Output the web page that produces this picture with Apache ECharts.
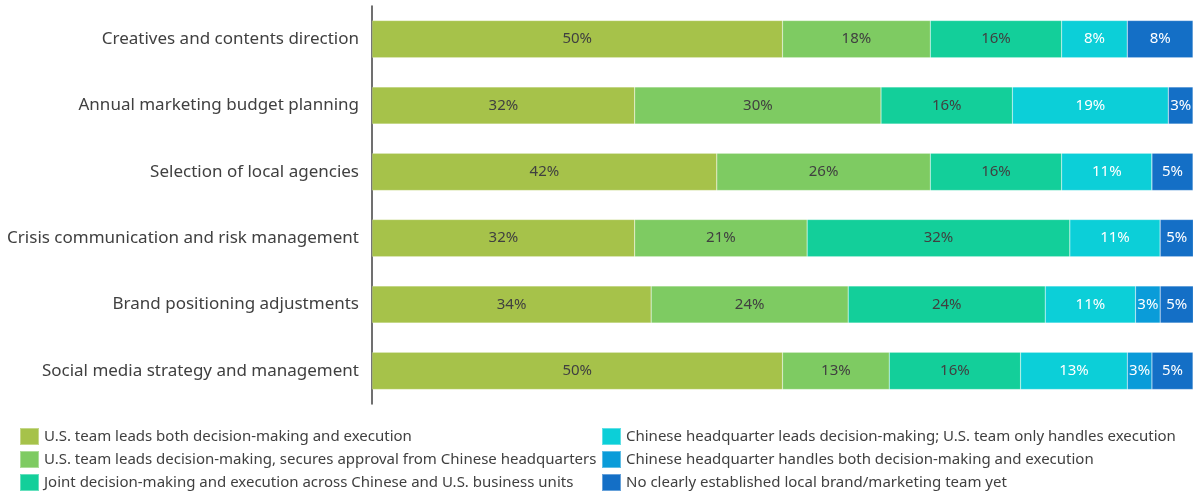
<!DOCTYPE html>
<html>
<head>
<meta charset="utf-8">
<script src="https://cdn.jsdelivr.net/npm/echarts@6/dist/echarts.min.js"></script>
<style>
  html, body { margin: 0; padding: 0; background: #ffffff; }
  #chart { width: 1193px; height: 496px; }
</style>
</head>
<body>
<div id="chart"></div>
<script>
// Categories, top to bottom
const categories = [
  "Creatives and contents direction",
  "Annual marketing budget planning",
  "Selection of local agencies",
  "Crisis communication and risk management",
  "Brand positioning adjustments",
  "Social media strategy and management"
];

const seriesNames = [
  "U.S. team leads both decision-making and execution",
  "U.S. team leads decision-making, secures approval from Chinese headquarters",
  "Joint decision-making and execution across Chinese and U.S. business units",
  "Chinese headquarter leads decision-making; U.S. team only handles execution",
  "Chinese headquarter handles both decision-making and execution",
  "No clearly established local brand/marketing team yet"
];

// Percentages per series, in category order
const usLeadsBoth      = [50, 32, 42, 32, 34, 50];
const usLeadsApproval  = [18, 30, 26, 21, 24, 13];
const jointDecision    = [16, 16, 16, 32, 24, 16];
const hqLeadsDecision  = [8, 19, 11, 11, 11, 13];
const hqHandlesBoth    = [0, 0, 0, 0, 3, 3];
const noLocalTeam      = [8, 3, 5, 5, 5, 5];

const seriesValues = [usLeadsBoth, usLeadsApproval, jointDecision, hqLeadsDecision, hqHandlesBoth, noLocalTeam];
const colors = ["#a6c24a", "#7ecb62", "#13cf9a", "#0ccfd8", "#0a9cd9", "#146fc6"];
const labelColors = ["#404040", "#404040", "#404040", "#ffffff", "#ffffff", "#ffffff"];

const FONT = "'Noto Sans', sans-serif";

const series = seriesNames.map((name, i) => ({
  name: name,
  type: "bar",
  stack: "total",
  barWidth: "56%",
  itemStyle: { color: colors[i], borderColor: "rgba(255,255,255,0.35)", borderWidth: 0.5 },
  label: {
    show: true,
    position: "inside",
    color: labelColors[i],
    fontFamily: FONT,
    fontSize: 15,
    formatter: p => (p.value > 0 ? p.value + "%" : "")
  },
  data: seriesValues[i].slice().reverse()
}));

const legendBase = {
  orient: "vertical",
  top: 427,
  padding: 0,
  itemWidth: 19,
  itemHeight: 17,
  itemGap: 4,
  icon: "rect",
  textStyle: { color: "#404040", fontFamily: FONT, fontSize: 15 }
};

const chart = echarts.init(document.getElementById("chart"));
chart.setOption({
  animation: false,
  grid: { left: 372, right: 0, top: 6, bottom: 92, containLabel: false },
  xAxis: {
    type: "value",
    min: 0,
    max: 100,
    show: false
  },
  yAxis: {
    type: "category",
    data: categories.slice().reverse(),
    axisLine: { show: true, lineStyle: { color: "#404040", width: 1.5 } },
    axisTick: { show: false },
    axisLabel: { color: "#404040", fontFamily: FONT, fontSize: 17, margin: 13 }
  },
  legend: [
    Object.assign({}, legendBase, { data: seriesNames.slice(0, 3), left: 19 }),
    Object.assign({}, legendBase, { data: seriesNames.slice(3), left: 601 })
  ],
  series: series
});
</script>
</body>
</html>
